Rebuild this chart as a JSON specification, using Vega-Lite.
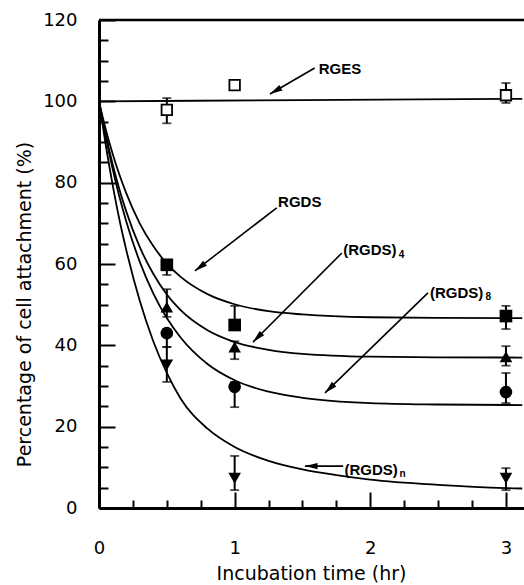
{
  "$schema": "https://vega.github.io/schema/vega-lite/v6.json",
  "autosize": "none",
  "width": 425,
  "height": 488,
  "padding": {"left": 99, "top": 20, "right": 0, "bottom": 77},
  "background": "white",
  "config": {
    "view": {"stroke": null},
    "axis": {"grid": false, "domainColor": "black", "domainWidth": 3, "tickColor": "black", "tickWidth": 2, "labelColor": "black", "titleColor": "black", "labelFont": "DejaVu Sans", "labelFontSize": 18, "titleFont": "DejaVu Sans", "titleFontSize": 19, "titleFontWeight": "normal"}
  },
  "datasets": {
    "frame": [{"v": 120}],
    "curves": [
      {"series": "RGES", "t": 0, "v": 100}, {"series": "RGES", "t": 1.5, "v": 100.3}, {"series": "RGES", "t": 3.12, "v": 100.6},
      {"series": "RGDS", "t": 0, "v": 100}, {"series": "RGDS", "t": 0.05, "v": 93.1}, {"series": "RGDS", "t": 0.1, "v": 87.2}, {"series": "RGDS", "t": 0.15, "v": 82.0}, {"series": "RGDS", "t": 0.2, "v": 77.5}, {"series": "RGDS", "t": 0.3, "v": 70.0}, {"series": "RGDS", "t": 0.4, "v": 64.4}, {"series": "RGDS", "t": 0.5, "v": 60.1}, {"series": "RGDS", "t": 0.6, "v": 56.9}, {"series": "RGDS", "t": 0.8, "v": 52.6}, {"series": "RGDS", "t": 1.0, "v": 50.1}, {"series": "RGDS", "t": 1.25, "v": 48.4}, {"series": "RGDS", "t": 1.5, "v": 47.6}, {"series": "RGDS", "t": 2.0, "v": 46.9}, {"series": "RGDS", "t": 2.5, "v": 46.75}, {"series": "RGDS", "t": 3.12, "v": 46.7},
      {"series": "RGDS4", "t": 0, "v": 100}, {"series": "RGDS4", "t": 0.05, "v": 91.8}, {"series": "RGDS4", "t": 0.1, "v": 84.6}, {"series": "RGDS4", "t": 0.15, "v": 78.4}, {"series": "RGDS4", "t": 0.2, "v": 73.0}, {"series": "RGDS4", "t": 0.3, "v": 64.2}, {"series": "RGDS4", "t": 0.4, "v": 57.6}, {"series": "RGDS4", "t": 0.5, "v": 52.5}, {"series": "RGDS4", "t": 0.6, "v": 48.7}, {"series": "RGDS4", "t": 0.8, "v": 43.7}, {"series": "RGDS4", "t": 1.0, "v": 40.8}, {"series": "RGDS4", "t": 1.25, "v": 38.9}, {"series": "RGDS4", "t": 1.5, "v": 37.9}, {"series": "RGDS4", "t": 2.0, "v": 37.2}, {"series": "RGDS4", "t": 2.5, "v": 37.05}, {"series": "RGDS4", "t": 3.12, "v": 37.0},
      {"series": "RGDS8", "t": 0, "v": 100}, {"series": "RGDS8", "t": 0.05, "v": 91.2}, {"series": "RGDS8", "t": 0.1, "v": 83.5}, {"series": "RGDS8", "t": 0.15, "v": 76.6}, {"series": "RGDS8", "t": 0.2, "v": 70.6}, {"series": "RGDS8", "t": 0.3, "v": 60.6}, {"series": "RGDS8", "t": 0.4, "v": 52.8}, {"series": "RGDS8", "t": 0.5, "v": 46.7}, {"series": "RGDS8", "t": 0.6, "v": 42.0}, {"series": "RGDS8", "t": 0.8, "v": 35.4}, {"series": "RGDS8", "t": 1.0, "v": 31.4}, {"series": "RGDS8", "t": 1.25, "v": 28.6}, {"series": "RGDS8", "t": 1.5, "v": 27.1}, {"series": "RGDS8", "t": 2.0, "v": 25.8}, {"series": "RGDS8", "t": 2.5, "v": 25.45}, {"series": "RGDS8", "t": 3.12, "v": 25.3},
      {"series": "RGDSn", "t": 0, "v": 100}, {"series": "RGDSn", "t": 0.05, "v": 89.2}, {"series": "RGDSn", "t": 0.1, "v": 79.6}, {"series": "RGDSn", "t": 0.15, "v": 71.0}, {"series": "RGDSn", "t": 0.2, "v": 63.6}, {"series": "RGDSn", "t": 0.3, "v": 51.0}, {"series": "RGDSn", "t": 0.4, "v": 41.0}, {"series": "RGDSn", "t": 0.5, "v": 33.2}, {"series": "RGDSn", "t": 0.6, "v": 27.0}, {"series": "RGDSn", "t": 0.8, "v": 19.5}, {"series": "RGDSn", "t": 1.0, "v": 15.0}, {"series": "RGDSn", "t": 1.25, "v": 11.6}, {"series": "RGDSn", "t": 1.5, "v": 9.5}, {"series": "RGDSn", "t": 1.75, "v": 8.1}, {"series": "RGDSn", "t": 2.0, "v": 7.0}, {"series": "RGDSn", "t": 2.5, "v": 5.7}, {"series": "RGDSn", "t": 3.0, "v": 4.9}, {"series": "RGDSn", "t": 3.12, "v": 4.8}
    ],
    "points": [
      {"series": "RGES", "t": 0.5, "v": 97.9, "lo": 94.6, "hi": 100.8},
      {"series": "RGES", "t": 1.0, "v": 104.0, "lo": 104.0, "hi": 104.0},
      {"series": "RGES", "t": 3.0, "v": 101.5, "lo": 99.6, "hi": 104.5},
      {"series": "RGDS", "t": 0.5, "v": 59.8, "lo": 57.3, "hi": 60.5},
      {"series": "RGDS", "t": 1.0, "v": 45.0, "lo": 44.0, "hi": 49.7},
      {"series": "RGDS", "t": 3.0, "v": 47.2, "lo": 44.0, "hi": 49.7},
      {"series": "RGDS4", "t": 0.5, "v": 49.4, "lo": 47.0, "hi": 53.8},
      {"series": "RGDS4", "t": 1.0, "v": 39.6, "lo": 36.6, "hi": 41.0},
      {"series": "RGDS4", "t": 3.0, "v": 37.2, "lo": 35.0, "hi": 39.8},
      {"series": "RGDS8", "t": 0.5, "v": 43.0, "lo": 39.6, "hi": 44.0},
      {"series": "RGDS8", "t": 1.0, "v": 29.8, "lo": 24.8, "hi": 31.0},
      {"series": "RGDS8", "t": 3.0, "v": 28.5, "lo": 25.8, "hi": 33.2},
      {"series": "RGDSn", "t": 0.5, "v": 35.2, "lo": 31.0, "hi": 39.6},
      {"series": "RGDSn", "t": 1.0, "v": 7.3, "lo": 4.4, "hi": 12.8},
      {"series": "RGDSn", "t": 3.0, "v": 7.3, "lo": 4.4, "hi": 9.8}
    ],
    "arrows": [
      {"label": "RGES", "t": 1.26, "v": 101.8, "t2": 1.59, "v2": 108.2, "angle": 240},
      {"label": "RGDS", "t": 0.707, "v": 58.3, "t2": 1.31, "v2": 73.8, "angle": 233},
      {"label": "RGDS4", "t": 1.135, "v": 40.8, "t2": 1.79, "v2": 62.7, "angle": 225},
      {"label": "RGDS8", "t": 1.666, "v": 28.3, "t2": 2.425, "v2": 52.9, "angle": 226},
      {"label": "RGDSn", "t": 1.518, "v": 10.3, "t2": 1.8, "v2": 10.3, "angle": 270}
    ],
    "labels": [
      {"text": "RGES", "t": 1.62, "v": 107.9},
      {"text": "RGDS", "t": 1.32, "v": 75.2},
      {"text": "(RGDS)", "t": 1.8, "v": 63.4},
      {"text": "(RGDS)", "t": 2.44, "v": 52.9},
      {"text": "(RGDS)", "t": 1.81, "v": 9.3}
    ],
    "subs": [
      {"text": "4", "t": 2.21, "v": 62.3},
      {"text": "8", "t": 2.85, "v": 51.9},
      {"text": "n", "t": 2.215, "v": 8.3}
    ]
  },
  "encoding": {
    "x": {"field": "t", "type": "quantitative", "title": "Incubation time (hr)",
      "scale": {"domain": [0, 3.133], "nice": false, "zero": false},
      "axis": {"title": "Incubation time (hr)", "values": [0, 0.25, 0.5, 0.75, 1, 1.25, 1.5, 1.75, 2, 2.25, 2.5, 2.75, 3],
        "labelExpr": "datum.value % 1 === 0 ? format(datum.value, 'd') : ''",
        "tickSize": {"condition": {"test": "datum.value % 1 === 0", "value": -16}, "value": -8},
        "labelPadding": 47, "titlePadding": 7, "labelFlush": false, "titleX": 212}},
    "y": {"field": "v", "type": "quantitative", "title": "Percentage of cell attachment (%)",
      "scale": {"domain": [0, 120], "nice": false},
      "axis": {"title": "Percentage of cell attachment (%)", "values": [0, 5, 10, 15, 20, 25, 30, 35, 40, 45, 50, 55, 60, 65, 70, 75, 80, 85, 90, 95, 100, 105, 110, 115, 120],
        "labelExpr": "datum.value % 20 === 0 ? datum.label : ''",
        "tickSize": {"condition": {"test": "datum.value % 20 === 0", "value": -16}, "value": -9},
        "labelPadding": 38, "titlePadding": 8, "labelFlush": false, "titleY": 284}}
  },
  "layer": [
    {"data": {"name": "curves"}, "mark": {"type": "line", "color": "black", "strokeWidth": 1.8, "interpolate": "monotone", "clip": true},
      "encoding": {"detail": {"field": "series"}}},
    {"data": {"name": "frame"}, "mark": {"type": "rule", "color": "black", "strokeWidth": 2.5},
      "encoding": {"x": {"value": 0}, "x2": {"value": 425}}},
    {"data": {"name": "points"}, "mark": {"type": "rule", "color": "black", "strokeWidth": 2},
      "encoding": {"y": {"field": "lo", "type": "quantitative", "title": "Percentage of cell attachment (%)"}, "y2": {"field": "hi"}}},
    {"data": {"name": "points"}, "mark": {"type": "tick", "orient": "horizontal", "color": "black", "size": 9, "thickness": 1.8},
      "encoding": {"y": {"field": "lo", "type": "quantitative", "title": "Percentage of cell attachment (%)"}}},
    {"data": {"name": "points"}, "mark": {"type": "tick", "orient": "horizontal", "color": "black", "size": 9, "thickness": 1.8},
      "encoding": {"y": {"field": "hi", "type": "quantitative", "title": "Percentage of cell attachment (%)"}}},
    {"data": {"name": "points"}, "transform": [{"filter": "datum.series === 'RGES'"}],
      "mark": {"type": "point", "shape": "square", "filled": true, "fill": "white", "stroke": "black", "strokeWidth": 1.8, "size": 110, "opacity": 1}},
    {"data": {"name": "points"}, "transform": [{"filter": "datum.series !== 'RGES'"}],
      "mark": {"type": "point", "filled": true, "color": "black", "opacity": 1},
      "encoding": {
        "shape": {"field": "series", "type": "nominal", "legend": null, "scale": {"domain": ["RGDS", "RGDS4", "RGDS8", "RGDSn"], "range": ["square", "triangle-up", "circle", "triangle-down"]}},
        "size": {"field": "series", "type": "nominal", "legend": null, "scale": {"domain": ["RGDS", "RGDS4", "RGDS8", "RGDSn"], "range": [160, 160, 150, 160]}}}},
    {"data": {"name": "arrows"}, "mark": {"type": "rule", "color": "black", "strokeWidth": 1.6},
      "encoding": {"x2": {"field": "t2"}, "y2": {"field": "v2"}}},
    {"data": {"name": "arrows"}, "mark": {"type": "point", "shape": "M0,0L0.5,2L-0.5,2Z", "filled": true, "color": "black", "opacity": 1, "size": 160},
      "encoding": {"angle": {"field": "angle", "type": "quantitative", "scale": null}}},
    {"data": {"name": "labels"}, "mark": {"type": "text", "align": "left", "baseline": "middle", "font": "Liberation Sans", "fontSize": 15, "fontWeight": "bold", "color": "black"},
      "encoding": {"text": {"field": "text"}}},
    {"data": {"name": "subs"}, "mark": {"type": "text", "align": "left", "baseline": "middle", "font": "Liberation Sans", "fontSize": 10, "fontWeight": "bold", "color": "black"},
      "encoding": {"text": {"field": "text"}}}
  ]
}
